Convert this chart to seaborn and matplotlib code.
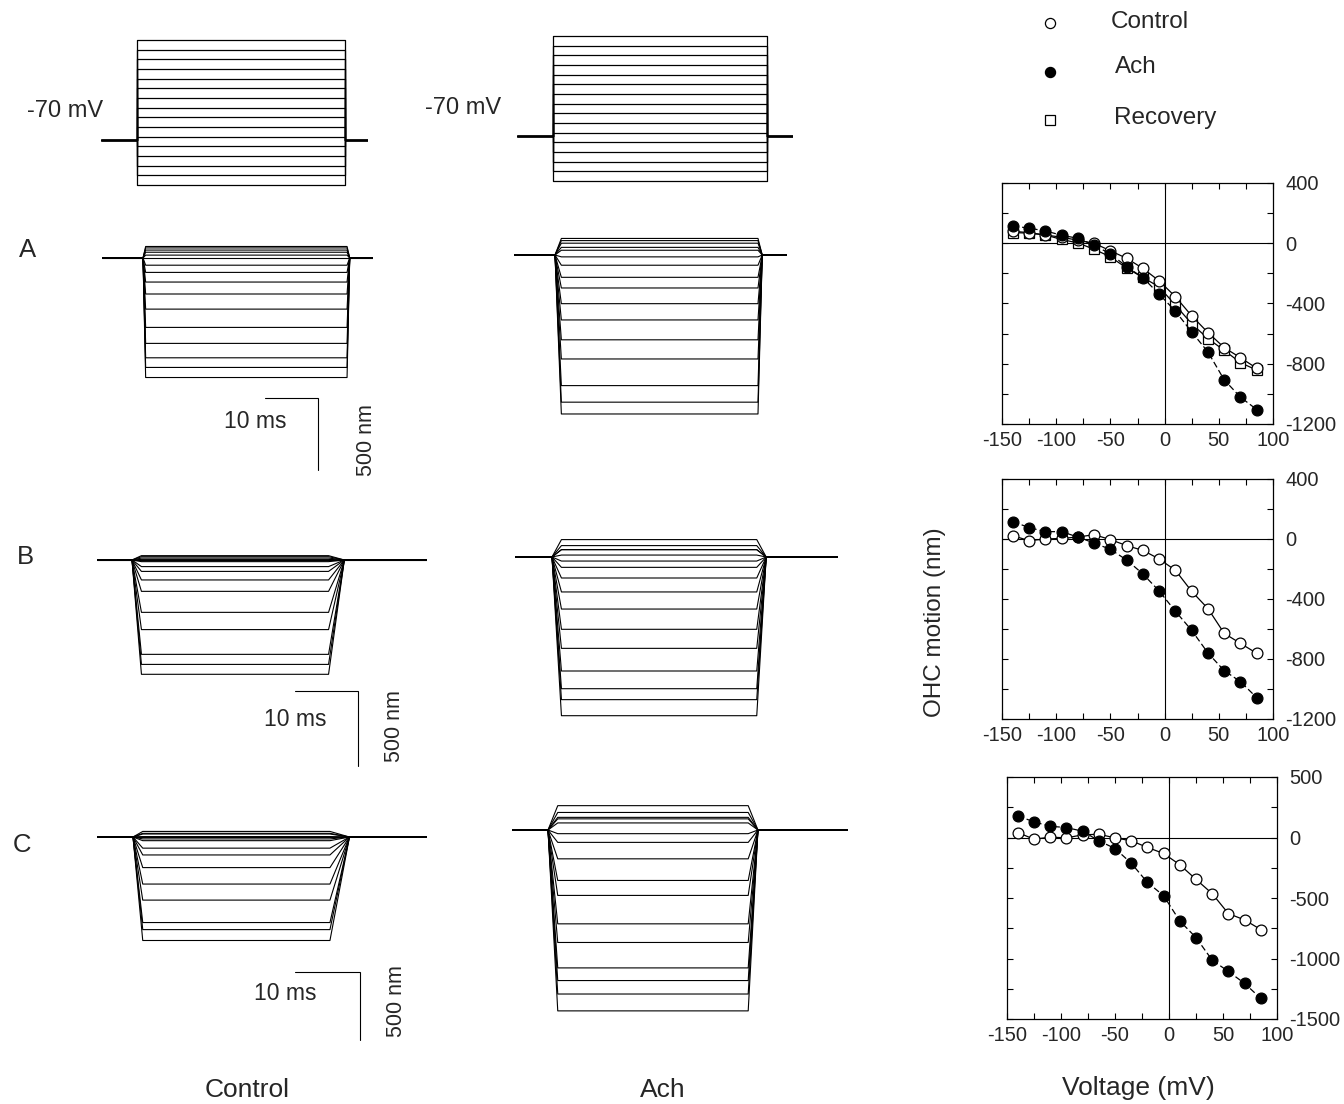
import numpy as np
import pandas as pd
import matplotlib
matplotlib.use("Agg")
import matplotlib.pyplot as plt
from matplotlib.ticker import MultipleLocator, FuncFormatter
import seaborn as sns

# ---------------- data ----------------
VOLTAGES = [-140, -125, -110, -95, -80, -65, -50, -35, -20, -5, 10, 25, 40, 55, 70, 85]
HOLDING_MV = -70

A_CONTROL = [80, 70, 55, 40, 20, 0, -50, -100, -167, -250, -355, -482, -593, -693, -760, -830]
A_ACH = [115, 100, 82, 53, 33, -13, -71, -155, -229, -338, -451, -589, -722, -907, -1022, -1104]
A_RECOVERY = [71, 67, 55, 25, 2, -40, -90, -165, -227, -290, -411, -535, -633, -711, -793, -842]

B_CONTROL = [22, -11, 0, 4, 13, 29, -4, -44, -76, -133, -209, -349, -464, -629, -696, -762]
B_ACH = [116, 76, 49, 49, 13, -27, -69, -140, -233, -347, -482, -609, -760, -878, -951, -1058]

C_CONTROL = [41, -14, 3, -3, 22, 27, -3, -27, -82, -132, -225, -346, -464, -629, -681, -761]
C_ACH = [179, 129, 93, 82, 52, -27, -91, -212, -371, -481, -690, -827, -1014, -1107, -1206, -1330]

ROW_LABELS = ["A", "B", "C"]
COLUMN_LABELS = ["Control", "Ach"]
SERIES_NAMES = ["Control", "Ach", "Recovery"]

# ---------------- style ----------------
sns.set_theme(style="ticks")
plt.rcParams["font.family"] = ["Liberation Sans", "DejaVu Sans"]
plt.rcParams["axes.linewidth"] = 0.9

W, H = 1344, 1104
fig = plt.figure(figsize=(W / 100, H / 100), dpi=100)
fig.patch.set_facecolor("white")


def px_axes(left, top, right, bottom):
    return fig.add_axes([left / W, 1 - bottom / H, (right - left) / W, (bottom - top) / H])


def mapped_axes(left, right, top, bottom, x0_px, px_per_x, y0_px, px_per_y):
    ax = px_axes(left, top, right, bottom)
    ax.set_xlim((left - x0_px) / px_per_x, (right - x0_px) / px_per_x)
    ax.set_ylim((y0_px - bottom) / px_per_y, (y0_px - top) / px_per_y)
    ax.set_axis_off()
    return ax


def ftext(x, y, s, **kw):
    kw.setdefault("ha", "center")
    kw.setdefault("va", "center")
    fig.text(x / W, 1 - y / H, s, **kw)


def step_frame(levels, t_start, t_end, dur, rise, fall, base=0.0):
    rows = []
    for i, lv in enumerate(levels):
        ts = [t_start, 0.0, rise, dur, dur + fall, t_end]
        ys = [base, base, lv, lv, base, base]
        for t, y in zip(ts, ys):
            rows.append((i, t, y))
    return pd.DataFrame(rows, columns=["trace", "t", "y"])


def draw_steps(ax, df, lw=0.8):
    sns.lineplot(data=df, x="t", y="y", units="trace", estimator=None, sort=False,
                 color="black", lw=lw, ax=ax, legend=False)
    ax.set_axis_off()


# ---------------- voltage protocols ----------------
PROTOCOLS = [
    # left, right, onset_px, step_px, hold_px, px_per_mV, dur_ms
    (101, 368, 137, 208, 140, 0.644, 38.5),
    (517, 793, 553, 214, 136, 0.644, 38.3),
]
for left, right, onset, step_px, hold_px, ppmv, dur in PROTOCOLS:
    ppms = step_px / dur
    y0 = hold_px + HOLDING_MV * ppmv
    ax = mapped_axes(left, right, 30, 195, onset, ppms, y0, ppmv)
    xl = ax.get_xlim()
    df = step_frame(VOLTAGES, xl[0], xl[1], dur, 0.0, 0.0, base=HOLDING_MV)
    draw_steps(ax, df, lw=0.9)
    ax.set_xlim(xl)
    ax.set_ylim((y0 - 195) / ppmv, (y0 - 30) / ppmv)

ftext(65, 111, "-70 mV", fontsize=17)
ftext(463, 108, "-70 mV", fontsize=17)

# ---------------- motion traces ----------------
TRACE_PANELS = [
    # levels, left, right, onset_px, baseline_px, px/ms, px/nm, dur, rise, fall
    (A_CONTROL, 102, 373, 143, 258, 5.3, 0.144, 38.5, 0.5, 0.5),
    (A_ACH, 514, 787, 555, 255, 5.3, 0.144, 38.3, 1.2, 0.8),
    (B_CONTROL, 97, 427, 132, 560, 6.3, 0.150, 31.2, 1.5, 2.5),
    (B_ACH, 515, 838, 552, 557, 6.3, 0.150, 32.5, 1.5, 1.5),
    (C_CONTROL, 97, 427, 133, 837, 6.5, 0.136, 30.3, 1.5, 3.0),
    (C_ACH, 512, 848, 548, 830, 6.5, 0.136, 30.8, 1.5, 1.5),
]
SCALE_BARS = [
    # panel index, bar end (ms), bar y (nm)
    (0, 33.0, -972),
    (2, 35.9, -873),
    (4, 34.9, -993),
]
trace_axes = []
for levels, left, right, onset, base_px, ppms, ppnm, dur, rise, fall in TRACE_PANELS:
    top, bottom = base_px - 40, base_px + 200
    ax = mapped_axes(left, right, top, bottom, onset, ppms, base_px, ppnm)
    xl, yl = ax.get_xlim(), ax.get_ylim()
    df = step_frame(levels, xl[0], xl[1], dur, rise, fall)
    draw_steps(ax, df, lw=0.8)
    ax.set_xlim(xl)
    ax.set_ylim(yl)
    trace_axes.append(ax)

for idx, x_end, y_bar in SCALE_BARS:
    ax = trace_axes[idx]
    ax.plot([x_end - 10, x_end, x_end], [y_bar, y_bar, y_bar - 500],
            color="black", lw=0.8, clip_on=False, solid_joinstyle="miter")

ftext(255, 421, "10 ms", fontsize=16.5)
ftext(367, 440, "500 nm", fontsize=15.5, rotation=90)
ftext(295, 719, "10 ms", fontsize=16.5)
ftext(394, 726, "500 nm", fontsize=15.5, rotation=90)
ftext(285, 993, "10 ms", fontsize=16.5)
ftext(396, 1001, "500 nm", fontsize=15.5, rotation=90)

for lab, (x, y) in zip(ROW_LABELS, [(28, 250), (25, 557), (22, 845)]):
    ftext(x, y, lab, fontsize=18.5)

ftext(247, 1090, COLUMN_LABELS[0], fontsize=19)
ftext(663, 1090, COLUMN_LABELS[1], fontsize=19)

# ---------------- motion vs voltage plots ----------------
STYLES = {
    "Control": dict(marker="o", markersize=7.8, markerfacecolor="white", linestyle="-", zorder=4),
    "Ach": dict(marker="o", markersize=7.8, markerfacecolor="black", linestyle=(0, (5, 2.5)), zorder=5),
    "Recovery": dict(marker="s", markersize=7.0, markerfacecolor="white", linestyle="-", zorder=3),
}

IV_PANELS = [
    ((1002, 183, 1273, 424), (-1200, 400), 400, 200,
     [("Recovery", A_RECOVERY), ("Control", A_CONTROL), ("Ach", A_ACH)]),
    ((1002, 479, 1273, 719), (-1200, 400), 400, 200,
     [("Control", B_CONTROL), ("Ach", B_ACH)]),
    ((1007, 777, 1277, 1019), (-1500, 500), 500, 250,
     [("Control", C_CONTROL), ("Ach", C_ACH)]),
]

for (l, t, r, b), ylim, ymaj, ymin, series in IV_PANELS:
    ax = px_axes(l, t, r, b)
    ax.axhline(0, color="black", lw=0.8, zorder=1)
    ax.axvline(0, color="black", lw=0.8, zorder=1)
    for name, vals in series:
        st = STYLES[name]
        sns.lineplot(x=VOLTAGES, y=vals, ax=ax, color="black", lw=0.9, sort=False,
                     markeredgecolor="black", markeredgewidth=0.9, **st)
    ax.set_xlim(-150, 100)
    ax.set_ylim(*ylim)
    ax.xaxis.set_major_locator(MultipleLocator(50))
    ax.xaxis.set_minor_locator(MultipleLocator(25))
    ax.yaxis.set_major_locator(MultipleLocator(ymaj))
    ax.yaxis.set_minor_locator(MultipleLocator(ymin))
    ax.xaxis.set_major_formatter(FuncFormatter(lambda v, p: f"{v:.0f}"))
    ax.yaxis.set_major_formatter(FuncFormatter(lambda v, p: f"{v:.0f}"))
    ax.tick_params(which="both", direction="in", top=True, bottom=True, left=True, right=True,
                   labelleft=False, labelright=True, length=4.5, width=0.8, color="black")
    ax.tick_params(axis="y", which="major", labelsize=14.5, pad=9)
    ax.tick_params(axis="x", which="major", labelsize=14.5, pad=5)
    ax.set_xlabel("")
    ax.set_ylabel("")
    for sp in ax.spines.values():
        sp.set_visible(True)
        sp.set_color("black")
        sp.set_linewidth(0.9)

ftext(935, 622, "OHC motion (nm)", fontsize=17.5, rotation=90)
ftext(1138, 1088, "Voltage (mV)", fontsize=19)

# ---------------- legend ----------------
lax = px_axes(1000, 0, 1344, 150)
lax.set_xlim(1000, 1344)
lax.set_ylim(150, 0)
lax.set_axis_off()
legend_rows = [(23, 1111, 22), (72, 1115, 67), (120, 1114, 118)]
for name, (my, tx, ty) in zip(SERIES_NAMES, legend_rows):
    st = STYLES[name]
    lax.plot([1050], [my], color="black", marker=st["marker"],
             markersize=st["markersize"] - 0.5 if name != "Recovery" else 6.5,
             markerfacecolor=st["markerfacecolor"], markeredgecolor="black",
             markeredgewidth=0.9, linestyle="none")
    lax.text(tx, ty, name, fontsize=17.5, ha="left", va="center")

fig.savefig("out.png", dpi=100, facecolor="white")
